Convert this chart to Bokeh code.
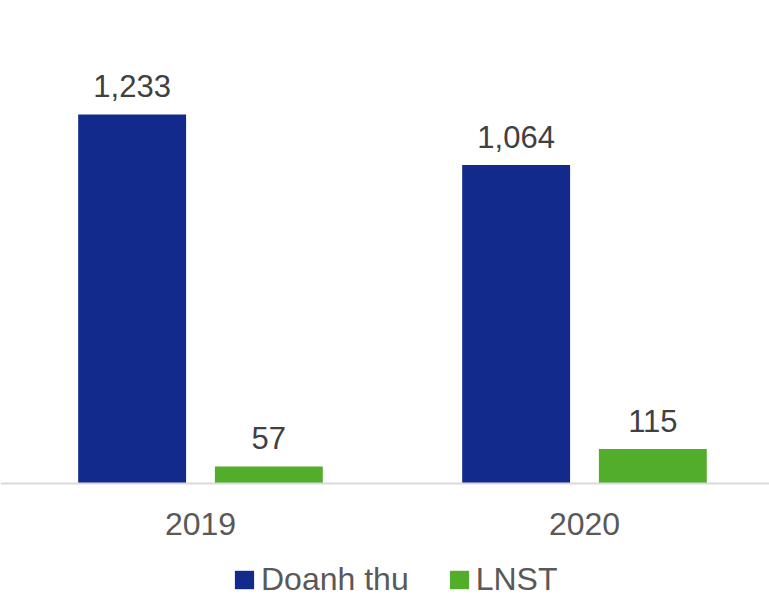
from bokeh.plotting import figure
from bokeh.models import ColumnDataSource, Range1d, Legend, LegendItem, Span
from bokeh.core.properties import value
from bokeh.embed import file_html
from bokeh.resources import INLINE

years = ["2019", "2020"]
doanh_thu = [1233, 1064]
lnst = [57, 115]

FONT = "Liberation Sans"
BLUE = "#122A8C"
GREEN = "#52AE2A"

centers = [i + 0.5 for i in range(len(years))]
off = 0.178
bw = 0.281

src_dt = ColumnDataSource(dict(x=[c - off for c in centers], top=doanh_thu,
                               label=[f"{v:,}" for v in doanh_thu]))
src_ln = ColumnDataSource(dict(x=[c + off for c in centers], top=lnst,
                               label=[f"{v:,}" for v in lnst]))
src_yr = ColumnDataSource(dict(x=centers, y=[0] * len(years), label=years))

W, H = 769, 597
PX = 0.2993  # pixels per unit
x0 = -0.0208
p = figure(width=W, height=H, output_backend="svg", toolbar_location=None,
           x_range=Range1d(x0, x0 + W / 384),
           y_range=Range1d(-(H - 483) / PX, 483 / PX),
           min_border=0, x_axis_location=None, y_axis_location=None)
p.outline_line_color = None
p.grid.visible = False
p.background_fill_color = "white"
p.border_fill_color = "white"

p.add_layout(Span(location=0, dimension="width", line_color="#D9D9D9", line_width=2))

r1 = p.vbar(x="x", top="top", width=bw, source=src_dt, fill_color=BLUE, line_color=None)
r2 = p.vbar(x="x", top="top", width=bw, source=src_ln, fill_color=GREEN, line_color=None)

for s in (src_dt, src_ln):
    p.text(x="x", y="top", text="label", source=s, text_font=value(FONT),
           text_font_size="31px", text_color="#404040", text_align="center",
           text_baseline="alphabetic", y_offset=-28)

p.text(x="x", y="y", text="label", source=src_yr, text_font=value(FONT),
       text_font_size="32px", text_color="#595959", text_align="center",
       text_baseline="alphabetic", y_offset=40)

legend = Legend(items=[LegendItem(label="Doanh thu", renderers=[r1]),
                       LegendItem(label="LNST", renderers=[r2])],
                orientation="horizontal", location=(232, -1),
                label_text_font=FONT, label_text_font_size="32px",
                label_text_color="#595959", glyph_width=24, glyph_height=23,
                label_standoff=5, spacing=38, padding=4, margin=0,
                border_line_color=None, background_fill_alpha=0)
p.add_layout(legend, "center")

open("out.html", "w").write(file_html(p, INLINE))
